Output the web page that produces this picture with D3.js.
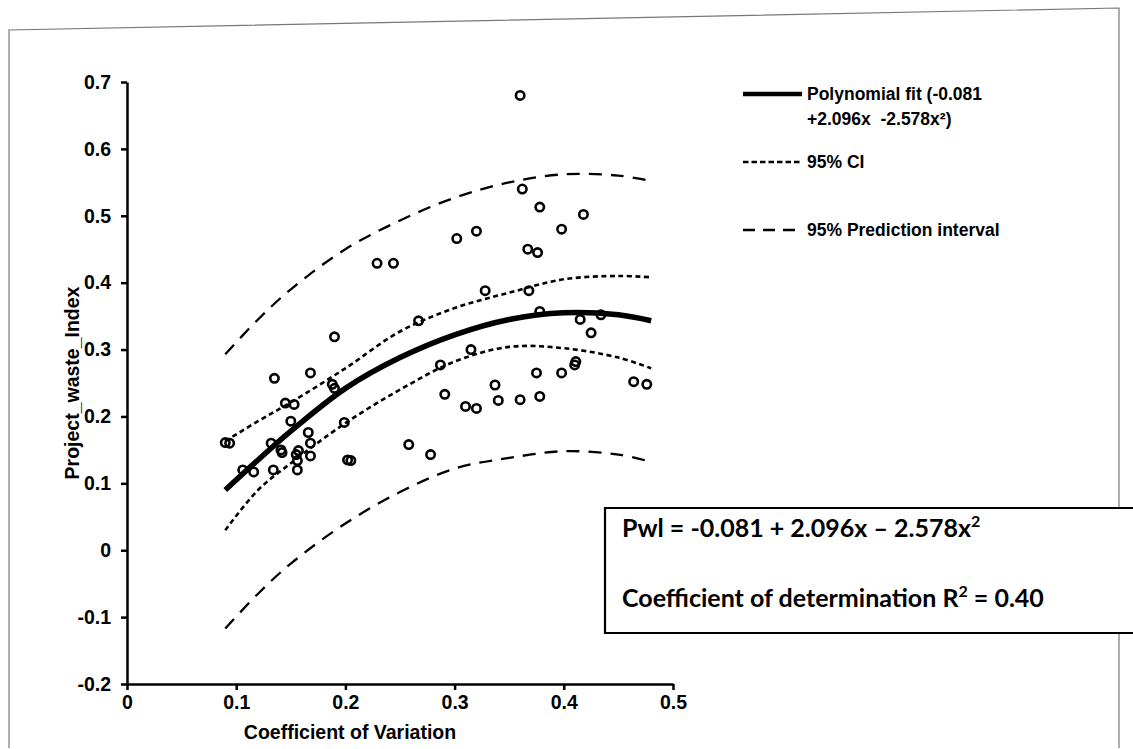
<!DOCTYPE html>
<html>
  <head>
    <meta charset="utf-8">
    <title>Project waste index vs coefficient of variation</title>
    <script src="https://cdn.jsdelivr.net/npm/d3@7"></script>
    <style>
      body { margin: 0; background: #fff; }
      text { font-family: "Liberation Sans", Arial, sans-serif; fill: #000; }
      .axis text { font-size: 19.5px; font-weight: bold; }
      .axis path, .axis line { stroke: #000; stroke-width: 2.5px; }
      .title { font-size: 19.5px; font-weight: bold; }
      .legend text { font-size: 17.5px; font-weight: bold; white-space: pre; }
      .box text { font-family: Lato, "Open Sans", sans-serif; font-size: 25px; font-weight: bold; }
    </style>
  </head>
  <body>
    <svg id="chart" width="1133" height="749"></svg>
    <script>
      // scatter points (coefficient of variation, project waste index)
      var cvValues = [0.090, 0.094, 0.106, 0.116, 0.132, 0.134, 0.135, 0.141, 0.142, 0.145,
        0.153, 0.150, 0.155, 0.157, 0.156, 0.156, 0.166, 0.168, 0.168, 0.168,
        0.190, 0.188, 0.190, 0.199, 0.202, 0.205, 0.229, 0.244, 0.258, 0.267,
        0.278, 0.287, 0.291, 0.302, 0.310, 0.315, 0.320, 0.320, 0.328, 0.337,
        0.340, 0.360, 0.362, 0.360, 0.367, 0.368, 0.375, 0.378, 0.376, 0.378,
        0.378, 0.398, 0.398, 0.410, 0.411, 0.415, 0.418, 0.425, 0.434, 0.464, 0.476];
      var pwiValues = [0.161, 0.160, 0.120, 0.117, 0.160, 0.120, 0.257, 0.150, 0.146, 0.220,
        0.218, 0.193, 0.143, 0.149, 0.134, 0.120, 0.176, 0.160, 0.141, 0.265,
        0.319, 0.248, 0.242, 0.191, 0.135, 0.134, 0.429, 0.429, 0.158, 0.343,
        0.143, 0.277, 0.233, 0.466, 0.215, 0.300, 0.212, 0.477, 0.388, 0.247,
        0.224, 0.680, 0.540, 0.225, 0.450, 0.388, 0.265, 0.513, 0.445, 0.357,
        0.230, 0.480, 0.265, 0.277, 0.282, 0.345, 0.502, 0.325, 0.352, 0.252, 0.248];

      // fitted curve and bands
      var curveX    = [0.09, 0.12, 0.15, 0.20, 0.25, 0.30, 0.35, 0.40, 0.45, 0.48];
      var fitY      = [0.090, 0.135, 0.178, 0.242, 0.288, 0.322, 0.345, 0.355, 0.352, 0.343];
      var ciUpper   = [0.163, 0.193, 0.221, 0.272, 0.327, 0.362, 0.385, 0.405, 0.410, 0.408];
      var ciLower   = [0.030, 0.090, 0.130, 0.190, 0.240, 0.282, 0.304, 0.302, 0.288, 0.272];
      var piUpper   = [0.293, 0.345, 0.390, 0.450, 0.493, 0.527, 0.550, 0.562, 0.560, 0.552];
      var piLower   = [-0.117, -0.065, -0.020, 0.040, 0.087, 0.122, 0.138, 0.148, 0.143, 0.132];

      var xTicks = [0, 0.1, 0.2, 0.3, 0.4, 0.5];
      var yTicks = [-0.2, -0.1, 0, 0.1, 0.2, 0.3, 0.4, 0.5, 0.6, 0.7];
      var legendLabels = [["Polynomial fit (-0.081", "+2.096x  -2.578x\u00B2)"], ["95% CI"], ["95% Prediction interval"]];
      var boxLines = ["Pwl = -0.081 + 2.096x \u2013 2.578x", "Coefficient of determination R", " = 0.40"];

      chart = d3.select("#chart");

      // scanned page frame
      chart.append("path")
        .attr("d", "M9,748 L9,30 L1119,8 L1119,748")
        .attr("fill", "none")
        .attr("stroke", "#777")
        .attr("stroke-width", 1.2);

      x = d3.scaleLinear().domain([0, 0.5]).range([127, 673]);
      y = d3.scaleLinear().domain([-0.2, 0.7]).range([684, 82]);

      // axes (plain hyphen for negatives, as in the original)
      chart.append("g")
        .attr("class", "axis")
        .attr("transform", "translate(0," + y(-0.2) + ")")
        .call(d3.axisBottom(x).tickValues(xTicks).tickSize(6).tickSizeOuter(0).tickPadding(5)
          .tickFormat(function(d) { return String(d); }));
      chart.append("g")
        .attr("class", "axis")
        .attr("transform", "translate(" + x(0) + ",0)")
        .call(d3.axisLeft(y).tickValues(yTicks).tickSize(6).tickSizeOuter(0).tickPadding(10)
          .tickFormat(function(d) { return String(+d.toFixed(1)); }));

      chart.append("text")
        .attr("class", "title")
        .attr("x", 350).attr("y", 739)
        .attr("text-anchor", "middle")
        .text("Coefficient of Variation");
      chart.append("text")
        .attr("class", "title")
        .attr("transform", "translate(79," + ((y(0.7) + y(-0.2)) / 2) + ") rotate(-90)")
        .attr("text-anchor", "middle")
        .text("Project_waste_Index");

      // curves
      line = function(ys) {
        return d3.line()
          .x(function(d, i) { return x(curveX[i]); })
          .y(function(d) { return y(d); })
          .curve(d3.curveCatmullRom)(ys);
      };
      var curves = [
        { data: piUpper, width: 2.3, dash: "13,9" },
        { data: piLower, width: 2.3, dash: "13,9" },
        { data: ciUpper, width: 2.6, dash: "5,3.5" },
        { data: ciLower, width: 2.6, dash: "5,3.5" },
        { data: fitY, width: 5.5, dash: null }
      ];
      chart.selectAll(".curve")
          .data(curves)
        .enter().append("path")
          .attr("class", "curve")
          .attr("d", function(d) { return line(d.data); })
          .attr("fill", "none")
          .attr("stroke", "#000")
          .attr("stroke-width", function(d) { return d.width; })
          .attr("stroke-dasharray", function(d) { return d.dash; });

      // points
      chart.selectAll(".dot")
          .data(cvValues)
        .enter().append("circle")
          .attr("class", "dot")
          .attr("cx", function(d) { return x(d); })
          .attr("cy", function(d, i) { return y(pwiValues[i]); })
          .attr("r", 4.2)
          .attr("fill", "none")
          .attr("stroke", "#000")
          .attr("stroke-width", 2.6);

      // legend
      legend = chart.append("g").attr("class", "legend");
      var legendY = [94, 162, 230];
      var legendDash = [null, "5.5,3", "12,8"];
      legend.selectAll("line")
          .data(legendY)
        .enter().append("line")
          .attr("x1", 743).attr("x2", 802)
          .attr("y1", function(d) { return d; })
          .attr("y2", function(d) { return d; })
          .attr("stroke", "#000")
          .attr("stroke-width", function(d, i) { return i == 0 ? 4.5 : 2.4; })
          .attr("stroke-dasharray", function(d, i) { return legendDash[i]; });
      legendLabels.forEach(function(lines, i) {
        lines.forEach(function(t, j) {
          legend.append("text")
            .attr("x", 807)
            .attr("y", legendY[i] + 6 + j * 25)
            .text(t);
        });
      });

      // equation box
      box = chart.append("g").attr("class", "box");
      box.append("path")
        .attr("d", "M1133,508 L605,508 L605,633 L1133,633")
        .attr("fill", "#fff")
        .attr("stroke", "#000")
        .attr("stroke-width", 2.2);
      t1 = box.append("text").attr("x", 622).attr("y", 537);
      t1.append("tspan").text(boxLines[0]);
      t1.append("tspan").attr("dy", -10).style("font-size", "16px").text("2");
      t2 = box.append("text").attr("x", 622).attr("y", 607);
      t2.append("tspan").text(boxLines[1]);
      t2.append("tspan").attr("dy", -10).style("font-size", "16px").text("2");
      t2.append("tspan").attr("dy", 10).text(boxLines[2]);
    </script>
  </body>
</html>
